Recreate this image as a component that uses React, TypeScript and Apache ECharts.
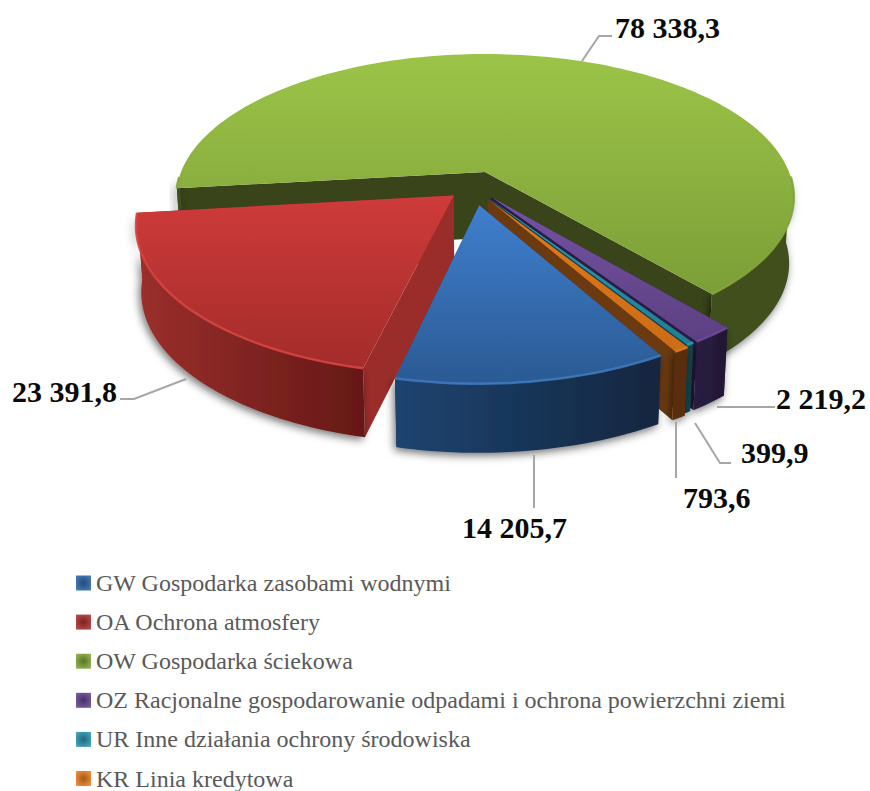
import React, { useEffect, useRef } from "react";
import * as echarts from "echarts";

const categories = [
  "GW Gospodarka zasobami wodnymi",
  "OA Ochrona atmosfery",
  "OW Gospodarka ściekowa",
  "OZ Racjonalne gospodarowanie odpadami i ochrona powierzchni ziemi",
  "UR Inne działania ochrony środowiska",
  "KR Linia kredytowa",
];
const values = [14205.7, 23391.8, 78338.3, 2219.2, 399.9, 793.6];

const total = values.reduce((a, b) => a + b, 0);
const FIRST_ANGLE = 60;
const toRad = Math.PI / 180;

// Projection of the tilted disc
const CX = 485, CY = 172, R = 304, Q = 0.456, K = 0.175;
const project = (X: number, Y: number): [number, number] => {
  const w = 1 - K * Y;
  return [(R * X) / w, (R * Q * Y) / w];
};
const top = (p: [number, number]): number[] => [CX + p[0], CY + p[1]];
const bottom = (p: [number, number]): number[] => [CX + p[0] * 0.985, CY + p[1] * 1.015 + 66];

const vGrad = (a: string, b: string) =>
  new echarts.graphic.LinearGradient(0, 0, 0, 1, [{ offset: 0, color: a }, { offset: 1, color: b }]);
const hGrad = (a: string, b: string) =>
  new echarts.graphic.LinearGradient(0, 0, 1, 0, [{ offset: 0, color: a }, { offset: 1, color: b }]);

interface Look {
  offset: [number, number];
  radius: number;
  z: number;
  topA: string; topB: string;
  sideA: string; sideB: string;
  wall: string; rim: string;
  legend: [string, string];
  leader: number[][];
  labelX: number; labelY: number;
}

const looks: Look[] = [
  { offset: [-0.018, 0.23], radius: 0.975, z: 7, topA: "#3F7FCE", topB: "#2B5A93", sideA: "#1E4470", sideB: "#12263F", wall: "#1E4470", rim: "#3E78BC", legend: ["#23497C", "#4F81BD"],
    leader: [[534, 455], [534, 508]], labelX: 462, labelY: 527 },
  { offset: [-0.1, 0.165], radius: 0.995, z: 6, topA: "#CE3B3A", topB: "#A32C2A", sideA: "#9B2F2C", sideB: "#651816", wall: "#9A2D2A", rim: "#D44240", legend: ["#7A2321", "#C0504D"],
    leader: [[186, 379], [134, 399], [120, 399]], labelX: 12, labelY: 391 },
  { offset: [0, 0], radius: 1, z: 2, topA: "#9CC448", topB: "#7C9E37", sideA: "#3F501C", sideB: "#3F501C", wall: "#39441A", rim: "#82A63B", legend: ["#5A7526", "#9BBB59"],
    leader: [[582, 61], [599, 36], [612, 36]], labelX: 615, labelY: 27 },
  { offset: [0.02, 0.175], radius: 1, z: 3, topA: "#7453A3", topB: "#5D4082", sideA: "#2A1D42", sideB: "#221733", wall: "#2A1D42", rim: "#6A4A96", legend: ["#44306A", "#8064A2"],
    leader: [[717, 407], [775, 407]], labelX: 776, labelY: 398 },
  { offset: [0.01, 0.18], radius: 1, z: 4, topA: "#2C9CB8", topB: "#1D7F96", sideA: "#123F4A", sideB: "#123F4A", wall: "#123F4A", rim: "#2C9CB8", legend: ["#1D6A7E", "#4BACC6"],
    leader: [[695, 423], [720, 463], [731, 463]], labelX: 741, labelY: 452 },
  { offset: [0.01, 0.19], radius: 1, z: 5, topA: "#E27A1C", topB: "#CB6C16", sideA: "#5A2D0C", sideB: "#5A2D0C", wall: "#6B3A10", rim: "#E27A1C", legend: ["#A85A12", "#F79646"],
    leader: [[676, 422], [676, 478]], labelX: 683, labelY: 497 },
];

const fmt = (v: number) => {
  const [a, b] = v.toFixed(1).split(".");
  return a.replace(/\B(?=(\d{3})+$)/g, " ") + "," + b;
};

const makeRender = (i: number) => (_params: any, api: any) => {
  const look = looks[i];
  const before = values.slice(0, i).reduce((a, b) => a + b, 0);
  const a0 = FIRST_ANGLE + (before / total) * 360;
  const a1 = a0 + (api.value(0) / total) * 360;
  const [ox, oy] = look.offset;
  const arc: [number, number][] = [];
  const rims: [number, number][][] = [];
  let open = false;
  const steps = Math.max(4, Math.ceil((a1 - a0) / 1.5));
  for (let s = 0; s <= steps; s++) {
    const t = (a0 + ((a1 - a0) * s) / steps) * toRad;
    const p = project(look.radius * Math.cos(t) + ox, look.radius * Math.sin(t) + oy);
    arc.push(p);
    if (Math.sin(t) > 0.02) {
      if (!open) rims.push([]);
      rims[rims.length - 1].push(p);
      open = true;
    } else {
      open = false;
    }
  }
  const apex = project(ox, oy);
  const wall = (p: [number, number]) => ({
    type: "polygon",
    shape: { points: [top(apex), top(p), bottom(p), bottom(apex)] },
    style: { fill: look.wall },
  });
  const children: any[] = [
    wall(arc[0]),
    wall(arc[arc.length - 1]),
    ...rims.map((seg) => ({
      type: "polygon",
      shape: { points: [...seg.map(top), ...seg.slice().reverse().map(bottom)] },
      style: {
        fill: hGrad(look.sideA, look.sideB),
        shadowBlur: 8,
        shadowColor: "rgba(0,0,0,0.55)",
        shadowOffsetX: -2,
        shadowOffsetY: 3,
      },
    })),
    {
      type: "polygon",
      shape: { points: [top(apex), ...arc.map(top)] },
      style: { fill: vGrad(look.topA, look.topB) },
    },
    ...rims.map((seg) => ({
      type: "polyline",
      shape: { points: seg.map(top) },
      style: { fill: "none", stroke: look.rim, lineWidth: 2.5, opacity: 0.9 },
    })),
    {
      type: "polyline",
      shape: { points: look.leader },
      style: { fill: "none", stroke: "#A6A6A6", lineWidth: 2 },
    },
    {
      type: "text",
      x: look.labelX,
      y: look.labelY,
      style: {
        text: fmt(api.value(0)),
        fontFamily: "Liberation Serif",
        fontWeight: "bold",
        fontSize: 30,
        fill: "#0A0A0A",
        align: "left",
        verticalAlign: "middle",
      },
    },
  ];
  return { type: "group", children };
};

export default function App() {
  const ref = useRef<HTMLDivElement>(null);
  useEffect(() => {
    document.body.style.margin = "0";
    const chart = echarts.init(ref.current!, null, { renderer: "svg" });
    chart.setOption({
      animation: false,
      backgroundColor: "#FFFFFF",
      legend: {
        orient: "vertical",
        left: 76,
        top: 571,
        height: 300,
        padding: 0,
        itemWidth: 15,
        itemHeight: 15,
        itemGap: 15.1,
        selectedMode: false,
        textStyle: { fontFamily: "Liberation Serif", fontSize: 24, color: "#595959" },
        data: categories.map((name, i) => ({
          name,
          icon: "rect",
          itemStyle: {
            color: new echarts.graphic.RadialGradient(0.5, 0.5, 0.7, [
              { offset: 0, color: looks[i].legend[0] },
              { offset: 1, color: looks[i].legend[1] },
            ]),
          },
        })),
      },
      series: categories.map((name, i) => ({
        type: "custom",
        name,
        coordinateSystem: "none",
        silent: true,
        z: looks[i].z,
        itemStyle: { color: looks[i].topA },
        renderItem: makeRender(i),
        data: [[values[i]]],
      })),
    });
    return () => chart.dispose();
  }, []);
  return <div ref={ref} style={{ position: "absolute", left: 0, top: 0, width: 870, height: 791 }} />;
}
